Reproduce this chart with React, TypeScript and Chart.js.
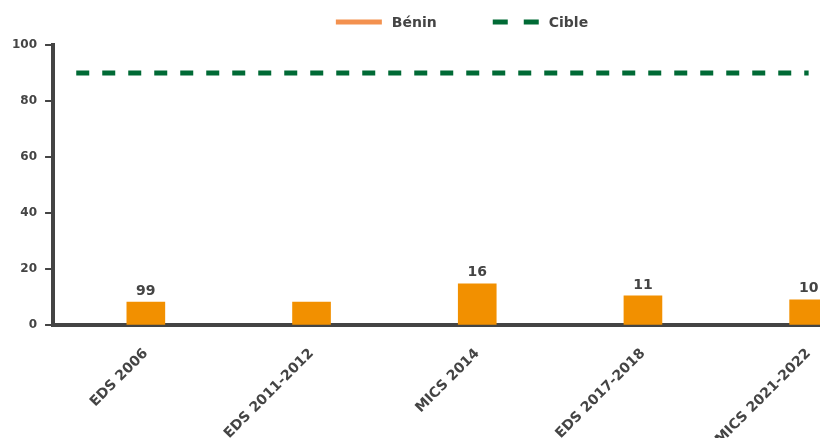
import React, { useEffect, useRef } from "react";
import { Chart, registerables } from "chart.js";

Chart.register(...registerables);

const categories = ["EDS 2006", "EDS 2011-2012", "MICS 2014", "EDS 2017-2018", "MICS 2021-2022"];
const beninValues = [8.3, 8.3, 14.8, 10.5, 9.1];
const beninLabels = ["99", "", "16", "11", "10"];
const cibleValue = 90;
const cibleFrom = -0.42;
const cibleTo = 4;
const yTicks = [0, 20, 40, 60, 80, 100];

const FONT = "'DejaVu Sans', sans-serif";
const TEXT = "#444444";
const AXIS = "#444444";
const BAR_ORANGE = "#F29000";
const LEGEND_ORANGE = "#F3914F";
const GREEN = "#006A35";

const barLabelPlugin = {
  id: "barLabels",
  afterDatasetsDraw(chart: any) {
    const ctx = chart.ctx;
    const meta = chart.getDatasetMeta(0);
    ctx.save();
    ctx.font = `bold 14px ${FONT}`;
    ctx.fillStyle = TEXT;
    ctx.textAlign = "center";
    ctx.textBaseline = "bottom";
    meta.data.forEach((el: any, i: number) => {
      const t = beninLabels[i];
      if (t) ctx.fillText(t, el.x, el.y - 4);
    });
    ctx.restore();
  },
};

const legendPlugin = {
  id: "customLegend",
  afterDraw(chart: any) {
    const ctx = chart.ctx;
    ctx.save();
    ctx.font = `bold 14px ${FONT}`;
    const items = [
      { text: chart.data.datasets[0].label, color: LEGEND_ORANGE, dash: [] as number[] },
      { text: chart.data.datasets[1].label, color: GREEN, dash: [15, 16] },
    ];
    const boxW = 46;
    const textGap = 10;
    const itemGap = 56;
    const widths = items.map((it) => boxW + textGap + ctx.measureText(it.text).width);
    const total = widths.reduce((a, b) => a + b, 0) + itemGap * (items.length - 1);
    let x = chart.width / 2 - total / 2 - 1;
    const y = 14;
    items.forEach((it, i) => {
      ctx.strokeStyle = it.color;
      ctx.lineWidth = 5;
      ctx.setLineDash(it.dash);
      ctx.beginPath();
      ctx.moveTo(x, y);
      ctx.lineTo(x + boxW, y);
      ctx.stroke();
      ctx.setLineDash([]);
      ctx.fillStyle = TEXT;
      ctx.textAlign = "left";
      ctx.textBaseline = "middle";
      ctx.fillText(it.text, x + boxW + textGap, y + 1);
      x += widths[i] + itemGap;
    });
    ctx.restore();
  },
};

export default function App() {
  const ref = useRef<HTMLCanvasElement>(null);

  useEffect(() => {
    document.documentElement.style.overflow = "hidden";
    document.body.style.overflow = "hidden";
    if (!ref.current) return;
    const chart = new Chart(ref.current, {
      type: "bar",
      data: {
        datasets: [
          {
            type: "bar",
            label: "Bénin",
            data: beninValues.map((v, i) => ({ x: i, y: v })),
            backgroundColor: BAR_ORANGE,
            borderWidth: 0,
            barThickness: 38,
            order: 2,
          } as any,
          {
            type: "line",
            label: "Cible",
            data: [
              { x: cibleFrom, y: cibleValue },
              { x: cibleTo, y: cibleValue },
            ],
            borderColor: GREEN,
            borderWidth: 5,
            borderDash: [13, 13],
            pointRadius: 0,
            fill: false,
            order: 1,
          } as any,
        ],
      },
      options: {
        animation: false,
        responsive: true,
        maintainAspectRatio: false,
        layout: { padding: { top: 37, left: -4, right: 0, bottom: 0 } },
        plugins: {
          legend: { display: false },
          tooltip: { enabled: false },
        },
        scales: {
          x: {
            type: "linear",
            offset: false,
            min: -0.56,
            max: 4.66,
            grid: { display: false },
            border: { display: true, color: AXIS, width: 4 },
            afterBuildTicks: (scale: any) => {
              scale.ticks = categories.map((_, i) => ({ value: i }));
            },
            ticks: {
              autoSkip: false,
              minRotation: 45,
              maxRotation: 45,
              padding: 12,
              color: TEXT,
              font: { family: FONT, size: 14, weight: "bold" },
              callback: (v: any) => categories[v as number] ?? "",
            },
          },
          y: {
            min: 0,
            max: 100,
            afterBuildTicks: (scale: any) => {
              scale.ticks = yTicks.map((v) => ({ value: v }));
            },
            grid: {
              display: true,
              drawOnChartArea: false,
              drawTicks: true,
              tickLength: 8,
              color: AXIS,
              lineWidth: 2,
            },
            border: { display: true, color: AXIS, width: 4 },
            ticks: {
              padding: 8,
              color: TEXT,
              font: { family: FONT, size: 12, weight: "bold" },
            },
          },
        },
      },
      plugins: [barLabelPlugin, legendPlugin],
    });
    return () => chart.destroy();
  }, []);

  return (
    <div style={{ position: "fixed", left: 8, top: 8, right: 0, bottom: 0, overflow: "hidden" }}>
      <div style={{ width: 910, height: 452, position: "relative" }}>
        <canvas ref={ref} />
      </div>
    </div>
  );
}
